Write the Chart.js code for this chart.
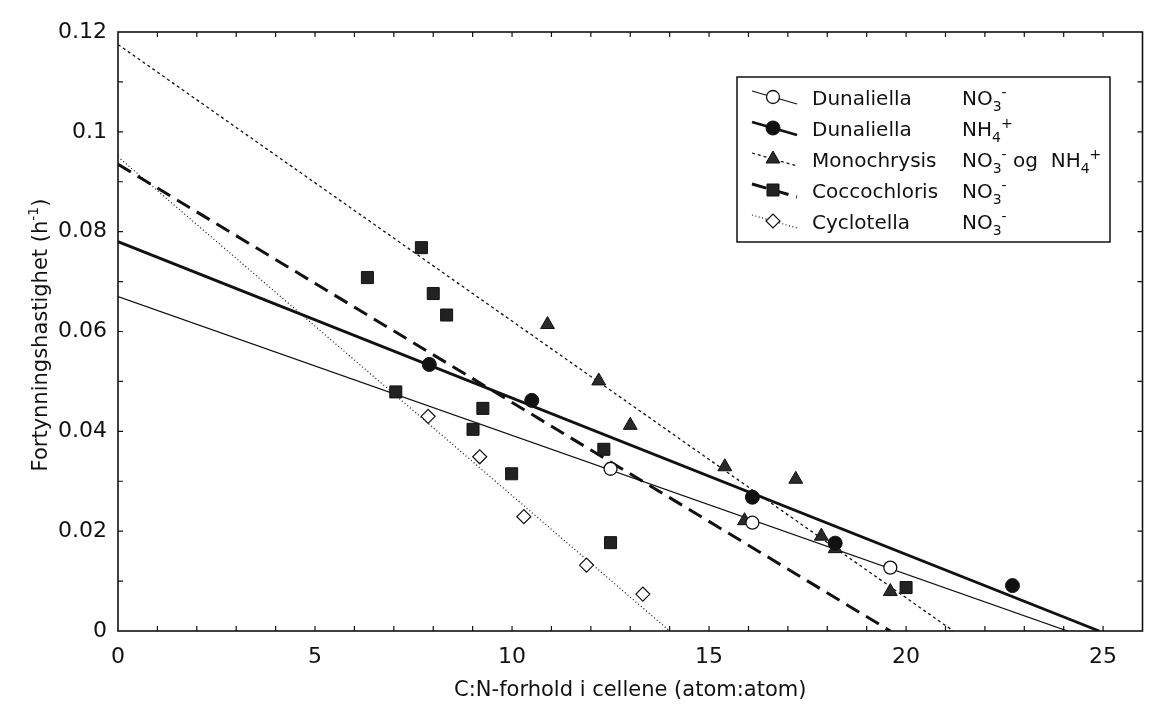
<!DOCTYPE html>
<html><head><meta charset="utf-8">
<script src="https://cdn.jsdelivr.net/npm/chart.js@4.4.1/dist/chart.umd.min.js"></script>
<style>html,body{margin:0;padding:0;background:#fff;overflow:hidden}</style>
</head><body>
<canvas id="c" width="1152" height="715" style="display:block;width:1152px;height:715px"></canvas>
<script>
const FONT = '"DejaVu Sans", "Liberation Sans", Arial, sans-serif';

// Tick labels
const xTickLabels = ['0', '5', '10', '15', '20', '25'];
const yTickLabels = ['0', '0.02', '0.04', '0.06', '0.08', '0.1', '0.12'];

// Axis titles
const xTitle = 'C:N-forhold i cellene (atom:atom)';
const yTitleMain = 'Fortynningshastighet (h';
const yTitleSup = '-1';
const yTitleEnd = ')';

// Series names (legend)
const seriesNames = ['Dunaliella', 'Dunaliella', 'Monochrysis', 'Coccochloris', 'Cyclotella'];

// Dunaliella NO3- (open circles)
const dunNO3X = [12.5, 16.1, 19.6];
const dunNO3Y = [0.0325, 0.0217, 0.0127];
// Dunaliella NH4+ (filled circles)
const dunNH4X = [7.9, 10.5, 16.1, 18.2, 22.7];
const dunNH4Y = [0.0534, 0.0462, 0.0268, 0.0176, 0.0091];
// Monochrysis NO3- og NH4+ (triangles)
const monoX = [10.9, 12.2, 13.0, 15.4, 17.2, 15.9, 17.85, 18.2, 19.6];
const monoY = [0.0614, 0.0501, 0.0412, 0.0329, 0.0304, 0.0221, 0.0190, 0.0165, 0.0079];
// Coccochloris NO3- (squares)
const coccoX = [7.7, 6.33, 8.0, 8.34, 7.05, 9.26, 9.01, 12.33, 9.99, 12.5, 20.0];
const coccoY = [0.0768, 0.0708, 0.0676, 0.0633, 0.0479, 0.0446, 0.0404, 0.0364, 0.0315, 0.0177, 0.0087];
// Cyclotella NO3- (open diamonds)
const cycloX = [7.87, 9.18, 10.3, 11.89, 13.32];
const cycloY = [0.0430, 0.0349, 0.0229, 0.0132, 0.0074];

// Regression lines (end points)
const fitDunNO3X = [0, 24.1], fitDunNO3Y = [0.067, 0];
const fitDunNH4X = [0, 24.9], fitDunNH4Y = [0.078, 0];
const fitMonoX = [0, 21.2],   fitMonoY = [0.1175, 0];
const fitCoccoX = [0, 19.6],  fitCoccoY = [0.0935, 0];
const fitCycloX = [0, 14.0],  fitCycloY = [0.095, 0];

function pts(xs, ys) { return xs.map((x, i) => ({ x: x, y: ys[i] })); }

const INK = '#111';

const lineStyles = [
  { borderWidth: 1.3, borderDash: [] },
  { borderWidth: 2.8, borderDash: [] },
  { borderWidth: 1.3, borderDash: [3, 3] },
  { borderWidth: 3, borderDash: [15, 8] },
  { borderWidth: 1.2, borderDash: [1, 2.5] }
];
const markerStyles = [
  { pointStyle: 'circle', radius: 6.5, fill: '#fff', borderWidth: 1.3 },
  { pointStyle: 'circle', radius: 7, fill: INK, borderWidth: 1 },
  { pointStyle: 'triangle', radius: 8, fill: '#2a2a2a', borderWidth: 1 },
  { pointStyle: 'rect', radius: 8.5, fill: '#222', borderWidth: 1 },
  { pointStyle: 'rectRot', radius: 7, fill: '#fff', borderWidth: 1.2 }
];

const fits = [[fitDunNO3X, fitDunNO3Y], [fitDunNH4X, fitDunNH4Y], [fitMonoX, fitMonoY], [fitCoccoX, fitCoccoY], [fitCycloX, fitCycloY]];
const scat = [[dunNO3X, dunNO3Y], [dunNH4X, dunNH4Y], [monoX, monoY], [coccoX, coccoY], [cycloX, cycloY]];

const datasets = [];
fits.forEach((f, i) => {
  datasets.push({
    label: seriesNames[i] + ' fit',
    data: pts(f[0], f[1]),
    showLine: true,
    borderColor: INK,
    borderWidth: lineStyles[i].borderWidth,
    borderDash: lineStyles[i].borderDash,
    pointRadius: 0,
    pointHoverRadius: 0,
    order: 2
  });
});
scat.forEach((s, i) => {
  const m = markerStyles[i];
  datasets.push({
    label: seriesNames[i],
    data: pts(s[0], s[1]),
    showLine: false,
    pointStyle: m.pointStyle,
    pointRadius: m.radius,
    pointHoverRadius: m.radius,
    pointBackgroundColor: m.fill,
    pointBorderColor: INK,
    pointBorderWidth: m.borderWidth,
    order: 0
  });
});

// rich text helper: parts [{t, s}] s: 0 normal, 'sub', 'sup'
function richWidth(ctx, parts, size) {
  let w = 0;
  parts.forEach(p => {
    ctx.font = (p.s ? Math.round(size * 0.68) : size) + 'px ' + FONT;
    w += ctx.measureText(p.t).width;
  });
  return w;
}
function drawRich(ctx, parts, x, y, size) {
  ctx.textBaseline = 'alphabetic';
  ctx.textAlign = 'left';
  let cx = x;
  parts.forEach(p => {
    let dy = 0;
    if (p.s) {
      ctx.font = Math.round(size * 0.68) + 'px ' + FONT;
      dy = p.s === 'sub' ? size * 0.28 : -size * 0.42;
    } else {
      ctx.font = size + 'px ' + FONT;
    }
    ctx.fillText(p.t, cx, y + dy);
    cx += ctx.measureText(p.t).width;
  });
  return cx;
}

const NO3 = [{ t: 'NO', s: 0 }, { t: '3', s: 'sub' }, { t: '-', s: 'sup' }];
const NH4 = [{ t: 'NH', s: 0 }, { t: '4', s: 'sub' }, { t: '+', s: 'sup' }];
const ionParts = [NO3, NH4, NO3.concat([{ t: ' og  ', s: 0 }], NH4), NO3, NO3];

const framePlugin = {
  id: 'frame',
  beforeDatasetsDraw(chart) {
    const { ctx, chartArea: a, scales: { x, y } } = chart;
    ctx.save();
    ctx.strokeStyle = INK;
    ctx.lineWidth = 1.2;
    ctx.setLineDash([]);
    x.ticks.forEach(t => {
      const px = x.getPixelForValue(t.value);
      if (px <= a.left + 1 || px >= a.right - 1) return;
      ctx.beginPath();
      ctx.moveTo(px, a.bottom); ctx.lineTo(px, a.bottom - 5);
      ctx.moveTo(px, a.top); ctx.lineTo(px, a.top + 5);
      ctx.stroke();
    });
    y.ticks.forEach(t => {
      const py = y.getPixelForValue(t.value);
      if (py <= a.top + 1 || py >= a.bottom - 1) return;
      ctx.beginPath();
      ctx.moveTo(a.left, py); ctx.lineTo(a.left + 5, py);
      ctx.moveTo(a.right, py); ctx.lineTo(a.right - 5, py);
      ctx.stroke();
    });
    ctx.restore();
  },
  afterDatasetsDraw(chart) {
    const { ctx, chartArea: a } = chart;
    ctx.save();
    ctx.strokeStyle = INK;
    ctx.lineWidth = 1.6;
    ctx.setLineDash([]);
    ctx.strokeRect(a.left, a.top, a.right - a.left, a.bottom - a.top);
    ctx.restore();
  },
  afterDraw(chart) {
    const { ctx } = chart;
    ctx.save();
    // Y title with superscript
    ctx.fillStyle = INK;
    const ts = 21;
    const parts = [{ t: yTitleMain, s: 0 }, { t: yTitleSup, s: 'sup' }, { t: yTitleEnd, s: 0 }];
    const w = richWidth(ctx, parts, ts);
    ctx.translate(47, 335);
    ctx.rotate(-Math.PI / 2);
    drawRich(ctx, parts, -w / 2, 0, ts);
    ctx.restore();

    // Legend
    ctx.save();
    const bx = 737, by = 77, bw = 373, bh = 165;
    ctx.fillStyle = '#fff';
    ctx.fillRect(bx, by, bw, bh);
    ctx.strokeStyle = INK;
    ctx.lineWidth = 1.5;
    ctx.strokeRect(bx, by, bw, bh);
    const rowY = [98, 129, 160, 191, 222];
    const fs = 20;
    for (let i = 0; i < 5; i++) {
      const ry = rowY[i];
      const ls = lineStyles[i];
      ctx.strokeStyle = INK;
      ctx.lineWidth = ls.borderWidth;
      ctx.setLineDash(ls.borderDash);
      ctx.beginPath();
      ctx.moveTo(752, ry - 7);
      ctx.lineTo(797, ry + 6);
      ctx.stroke();
      ctx.setLineDash([]);
      const m = markerStyles[i];
      ctx.fillStyle = m.fill;
      ctx.strokeStyle = INK;
      ctx.lineWidth = m.borderWidth;
      Chart.helpers.drawPoint(ctx, { pointStyle: m.pointStyle, radius: m.radius, borderWidth: m.borderWidth, rotation: 0 }, 773, ry - 1);
      ctx.fillStyle = INK;
      ctx.font = fs + 'px ' + FONT;
      ctx.textBaseline = 'alphabetic';
      ctx.textAlign = 'left';
      ctx.fillText(seriesNames[i], 812, ry + 7);
      drawRich(ctx, ionParts[i], 962, ry + 7, fs);
    }
    ctx.restore();
  }
};

new Chart(document.getElementById('c'), {
  type: 'scatter',
  data: { datasets: datasets },
  options: {
    responsive: false,
    animation: false,
    devicePixelRatio: 1,
    layout: { padding: { top: 32, right: 2, left: 0, bottom: 0 } },
    plugins: { legend: { display: false }, tooltip: { enabled: false } },
    scales: {
      x: {
        type: 'linear', min: 0, max: 26,
        grid: { display: false, drawTicks: false },
        border: { display: false },
        ticks: {
          stepSize: 1, autoSkip: false, maxRotation: 0, padding: 13,
          color: INK, font: { family: FONT, size: 22 },
          callback: (v) => (v % 5 === 0 && v / 5 < xTickLabels.length) ? xTickLabels[v / 5] : ''
        },
        title: { display: true, text: xTitle, color: INK, font: { family: FONT, size: 21 }, padding: { top: 0, bottom: 12 } },
        afterFit(s) { s.height = 84; s.paddingLeft = 0; s.paddingRight = 0; }
      },
      y: {
        type: 'linear', min: 0, max: 0.12,
        grid: { display: false, drawTicks: false },
        border: { display: false },
        ticks: {
          stepSize: 0.01, autoSkip: false, padding: 11,
          color: INK, font: { family: FONT, size: 22 },
          callback: (v) => { const k = Math.round(v * 100); return k % 2 === 0 ? yTickLabels[k / 2] : ''; }
        },
        afterFit(s) { s.width = 118; s.paddingTop = 0; s.paddingBottom = 0; }
      }
    }
  },
  plugins: [framePlugin]
});
</script>
</body></html>
